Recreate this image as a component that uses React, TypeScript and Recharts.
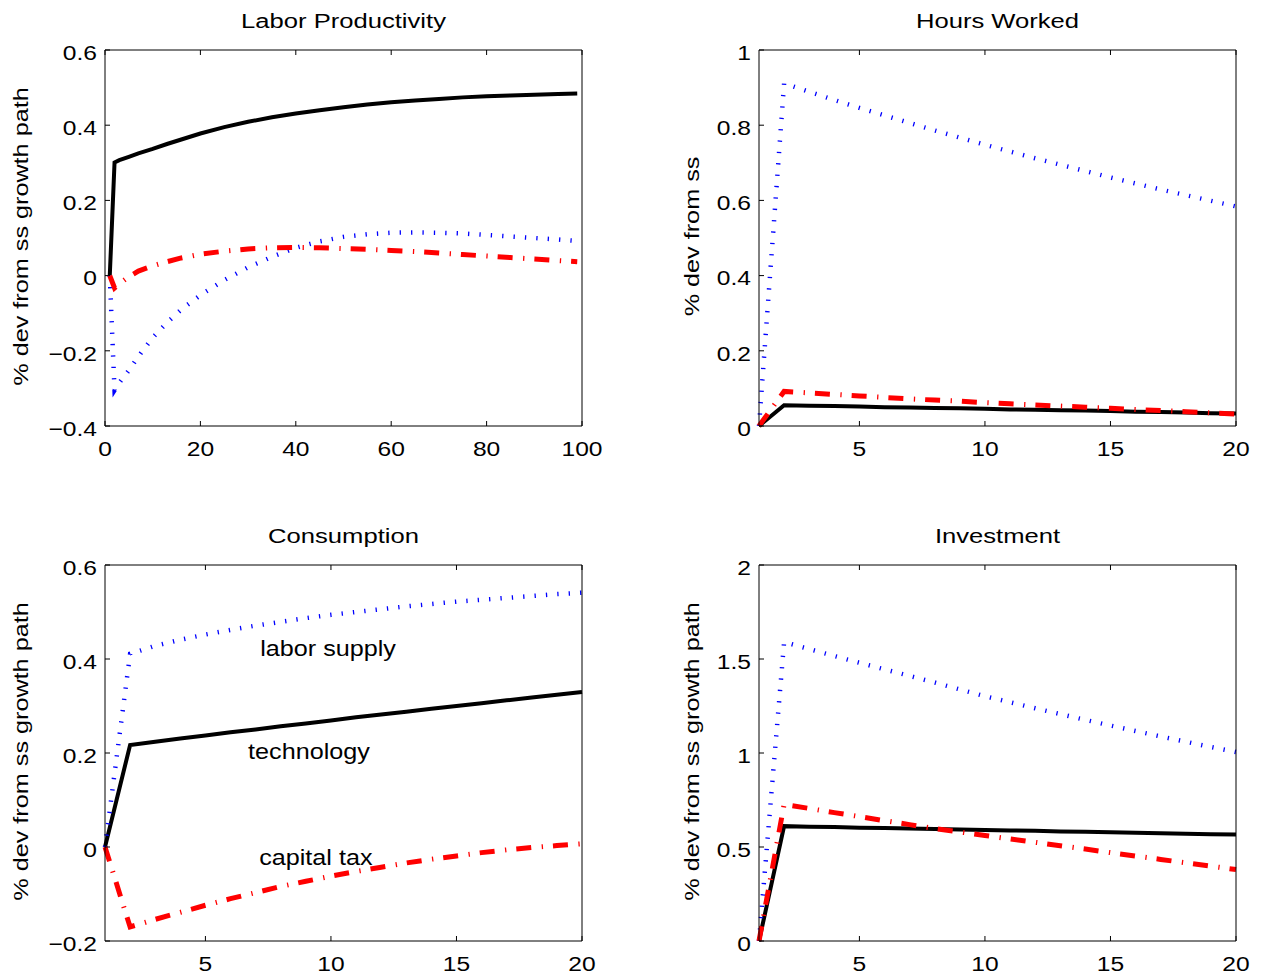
import React from 'react';
import { LineChart, Line, XAxis, YAxis, ReferenceDot } from 'recharts';

const FONT = '"Liberation Sans", Arial, Helvetica, sans-serif';

// ---- Labor productivity (long horizon) ----
const lpPeriods = [1, 2, 3, 5, 7, 10, 13, 16, 20, 25, 30, 35, 40, 45, 50, 55, 60, 65, 70, 75, 80, 85, 90, 95, 99];
const lpTech = [0, 0.301, 0.307, 0.316, 0.325, 0.337, 0.35, 0.362, 0.378, 0.395, 0.409, 0.421, 0.431, 0.44, 0.448, 0.455, 0.461, 0.466, 0.47, 0.474, 0.477, 0.479, 0.481, 0.483, 0.484];
const lpLabor = [0, -0.305, -0.285, -0.252, -0.215, -0.165, -0.125, -0.09, -0.052, -0.012, 0.022, 0.05, 0.074, 0.091, 0.103, 0.11, 0.114, 0.115, 0.114, 0.112, 0.108, 0.104, 0.1, 0.096, 0.092];
const lpTax = [0, -0.033, -0.022, -0.003, 0.012, 0.026, 0.037, 0.047, 0.057, 0.065, 0.071, 0.074, 0.075, 0.074, 0.072, 0.07, 0.067, 0.064, 0.06, 0.056, 0.052, 0.048, 0.044, 0.04, 0.037];

// ---- short horizon panels ----
const periods = [1, 2, 3, 4, 5, 6, 7, 8, 9, 10, 11, 12, 13, 14, 15, 16, 17, 18, 19, 20];

const hoursTech = [0, 0.055, 0.054, 0.053, 0.052, 0.05, 0.049, 0.048, 0.047, 0.046, 0.044, 0.043, 0.042, 0.041, 0.04, 0.038, 0.037, 0.036, 0.034, 0.033];
const hoursLabor = [0, 0.911, 0.889, 0.867, 0.846, 0.826, 0.806, 0.786, 0.767, 0.748, 0.73, 0.712, 0.695, 0.678, 0.661, 0.645, 0.629, 0.614, 0.599, 0.584];
const hoursTax = [0, 0.092, 0.088, 0.084, 0.08, 0.076, 0.072, 0.069, 0.066, 0.062, 0.059, 0.056, 0.053, 0.05, 0.047, 0.044, 0.041, 0.038, 0.035, 0.032];

const consTech = [0, 0.217, 0.224, 0.231, 0.237, 0.244, 0.25, 0.257, 0.263, 0.269, 0.276, 0.282, 0.288, 0.294, 0.3, 0.306, 0.312, 0.318, 0.324, 0.33];
const consLabor = [0, 0.411, 0.428, 0.441, 0.452, 0.462, 0.471, 0.479, 0.487, 0.494, 0.5, 0.506, 0.512, 0.517, 0.522, 0.526, 0.53, 0.534, 0.538, 0.541];
const consTax = [0, -0.17, -0.154, -0.139, -0.124, -0.11, -0.097, -0.084, -0.073, -0.062, -0.052, -0.043, -0.034, -0.026, -0.019, -0.012, -0.006, -0.001, 0.003, 0.007];

const invTech = [0, 0.611, 0.608, 0.606, 0.603, 0.601, 0.598, 0.596, 0.593, 0.591, 0.588, 0.586, 0.583, 0.581, 0.578, 0.576, 0.573, 0.571, 0.568, 0.566];
const invLabor = [0, 1.59, 1.553, 1.516, 1.48, 1.445, 1.41, 1.375, 1.338, 1.302, 1.27, 1.238, 1.207, 1.176, 1.146, 1.117, 1.088, 1.06, 1.032, 1.005];
const invTax = [0, 0.726, 0.705, 0.683, 0.662, 0.64, 0.619, 0.598, 0.58, 0.561, 0.543, 0.525, 0.507, 0.489, 0.47, 0.452, 0.434, 0.416, 0.398, 0.38];

// ---- ticks ----
const lpXTicks = [0, 20, 40, 60, 80, 100];
const shortXTicks = [5, 10, 15, 20];
const lpYTicks = [-0.4, -0.2, 0, 0.2, 0.4, 0.6];
const hoursYTicks = [0, 0.2, 0.4, 0.6, 0.8, 1];
const consYTicks = [-0.2, 0, 0.2, 0.4, 0.6];
const invYTicks = [0, 0.5, 1, 1.5, 2];

// labels written inside the consumption panel
const consNotes = [
  { text: 'labor supply', x: 7.18, y: 0.406 },
  { text: 'technology', x: 6.7, y: 0.187 },
  { text: 'capital tax', x: 7.14, y: -0.038 },
];

const rows = (xs: number[], tech: number[], labor: number[], tax: number[]) =>
  xs.map((x, i) => ({ x, tech: tech[i], labor: labor[i], tax: tax[i] }));

const fmt = (v: number) => (v < 0 ? '\u2212' + String(Math.abs(v)) : String(v));

const XTick = (props: any) => {
  const { x, y, payload } = props;
  return (
    <text transform={`translate(${x},${y}) scale(1.2,1)`} textAnchor="middle" dy={14.5}
      fontSize={20.5} fontFamily={FONT} fill="#000">
      {fmt(payload.value)}
    </text>
  );
};

const YTick = (props: any) => {
  const { x, y, payload } = props;
  return (
    <text transform={`translate(${x},${y}) scale(1.2,1)`} textAnchor="end" dy={9.7}
      fontSize={20.5} fontFamily={FONT} fill="#000">
      {fmt(payload.value)}
    </text>
  );
};

// mirrored axes only carry tick marks
const NoLabel = () => <g />;

const axisStroke = { stroke: '#000', strokeWidth: 1 };
const XH = 30;
const YW = 60;

type Box = { left: number; right: number; top: number; bottom: number };

interface PanelProps {
  left: number;
  top: number;
  width: number;
  box: Box;
  data: any[];
  xDomain: [number, number];
  xTicks: number[];
  yDomain: [number, number];
  yTicks: number[];
  notes?: { text: string; x: number; y: number }[];
}

const Panel: React.FC<PanelProps> = ({ left, top, width, box, data, xDomain, xTicks, yDomain, yTicks, notes }) => {
  const height = box.bottom + XH + 6 - top;
  const margin = {
    top: box.top - top - 1,
    bottom: 6,
    left: box.left - left - YW,
    right: left + width - box.right - 1,
  };
  return (
    <div style={{ position: 'absolute', left, top }}>
      <LineChart width={width} height={height} data={data} margin={margin}>
        <XAxis dataKey="x" type="number" domain={xDomain} ticks={xTicks} interval={0} height={XH}
          tickSize={-5} tickMargin={20} tick={<XTick />} axisLine={axisStroke} tickLine={axisStroke} />
        <XAxis xAxisId="top" dataKey="x" orientation="top" type="number" domain={xDomain} ticks={xTicks}
          interval={0} height={1} tickSize={-5} tick={<NoLabel />} axisLine={axisStroke} tickLine={axisStroke} />
        <YAxis type="number" domain={yDomain} ticks={yTicks} interval={0} width={YW}
          tickSize={-5} tickMargin={13} tick={<YTick />} axisLine={axisStroke} tickLine={axisStroke} />
        <YAxis yAxisId="right" orientation="right" type="number" domain={yDomain} ticks={yTicks}
          interval={0} width={1} tickSize={-5} tick={<NoLabel />} axisLine={axisStroke} tickLine={axisStroke} />
        <Line type="linear" dataKey="tech" stroke="#000000" strokeWidth={4} dot={false}
          isAnimationActive={false} />
        <Line type="linear" dataKey="labor" stroke="#0000ff" strokeWidth={4.5} strokeDasharray="1.3 10.1"
          dot={false} isAnimationActive={false} />
        <Line type="linear" dataKey="tax" stroke="#ff0000" strokeWidth={5} strokeDasharray="15 10.5 1.3 10"
          dot={false} isAnimationActive={false} />
        {(notes || []).map((n) => (
          <ReferenceDot key={n.text} x={n.x} y={n.y} r={0} ifOverflow="visible"
            shape={(p: any) => (
              <text transform={`translate(${p.cx},${p.cy}) scale(1.12,1)`} fontSize={22.5}
                fontFamily={FONT} fill="#000">
                {n.text}
              </text>
            )} />
        ))}
      </LineChart>
    </div>
  );
};

const TL: Box = { left: 105, right: 582, top: 50, bottom: 426 };
const TR: Box = { left: 759, right: 1236, top: 50, bottom: 426 };
const BL: Box = { left: 105, right: 582, top: 565, bottom: 941 };
const BR: Box = { left: 759, right: 1236, top: 565, bottom: 941 };

const titles = [
  { text: 'Labor Productivity', box: TL },
  { text: 'Hours Worked', box: TR },
  { text: 'Consumption', box: BL },
  { text: 'Investment', box: BR },
];

const yLabels = [
  { text: '% dev from ss growth path', x: 28, box: TL },
  { text: '% dev from ss', x: 699, box: TR },
  { text: '% dev from ss growth path', x: 28, box: BL },
  { text: '% dev from ss growth path', x: 699, box: BR },
];

const App: React.FC = () => {
  return (
    <div style={{ position: 'absolute', left: 0, top: 0, width: 1262, height: 979, background: '#fff', overflow: 'hidden' }}>
      <Panel left={0} top={0} width={631} box={TL} data={rows(lpPeriods, lpTech, lpLabor, lpTax)}
        xDomain={[0, 100]} xTicks={lpXTicks} yDomain={[-0.4, 0.6]} yTicks={lpYTicks} />
      <Panel left={631} top={0} width={631} box={TR} data={rows(periods, hoursTech, hoursLabor, hoursTax)}
        xDomain={[1, 20]} xTicks={shortXTicks} yDomain={[0, 1]} yTicks={hoursYTicks} />
      <Panel left={0} top={489} width={631} box={BL} data={rows(periods, consTech, consLabor, consTax)}
        xDomain={[1, 20]} xTicks={shortXTicks} yDomain={[-0.2, 0.6]} yTicks={consYTicks} notes={consNotes} />
      <Panel left={631} top={489} width={631} box={BR} data={rows(periods, invTech, invLabor, invTax)}
        xDomain={[1, 20]} xTicks={shortXTicks} yDomain={[0, 2]} yTicks={invYTicks} />
      <svg width={1262} height={979} style={{ position: 'absolute', left: 0, top: 0, pointerEvents: 'none' }}>
        {titles.map((t) => (
          <text key={t.text} transform={`translate(${(t.box.left + t.box.right) / 2},${t.box.top - 22.5}) scale(1.22,1)`}
            textAnchor="middle" fontSize={21} fontFamily={FONT} fill="#000">
            {t.text}
          </text>
        ))}
        {yLabels.map((l, i) => (
          <text key={i} transform={`translate(${l.x},${(l.box.top + l.box.bottom) / 2 - 1.5}) rotate(-90) scale(1.23,1)`}
            textAnchor="middle" fontSize={20.5} fontFamily={FONT} fill="#000">
            {l.text}
          </text>
        ))}
      </svg>
    </div>
  );
};

export default App;
